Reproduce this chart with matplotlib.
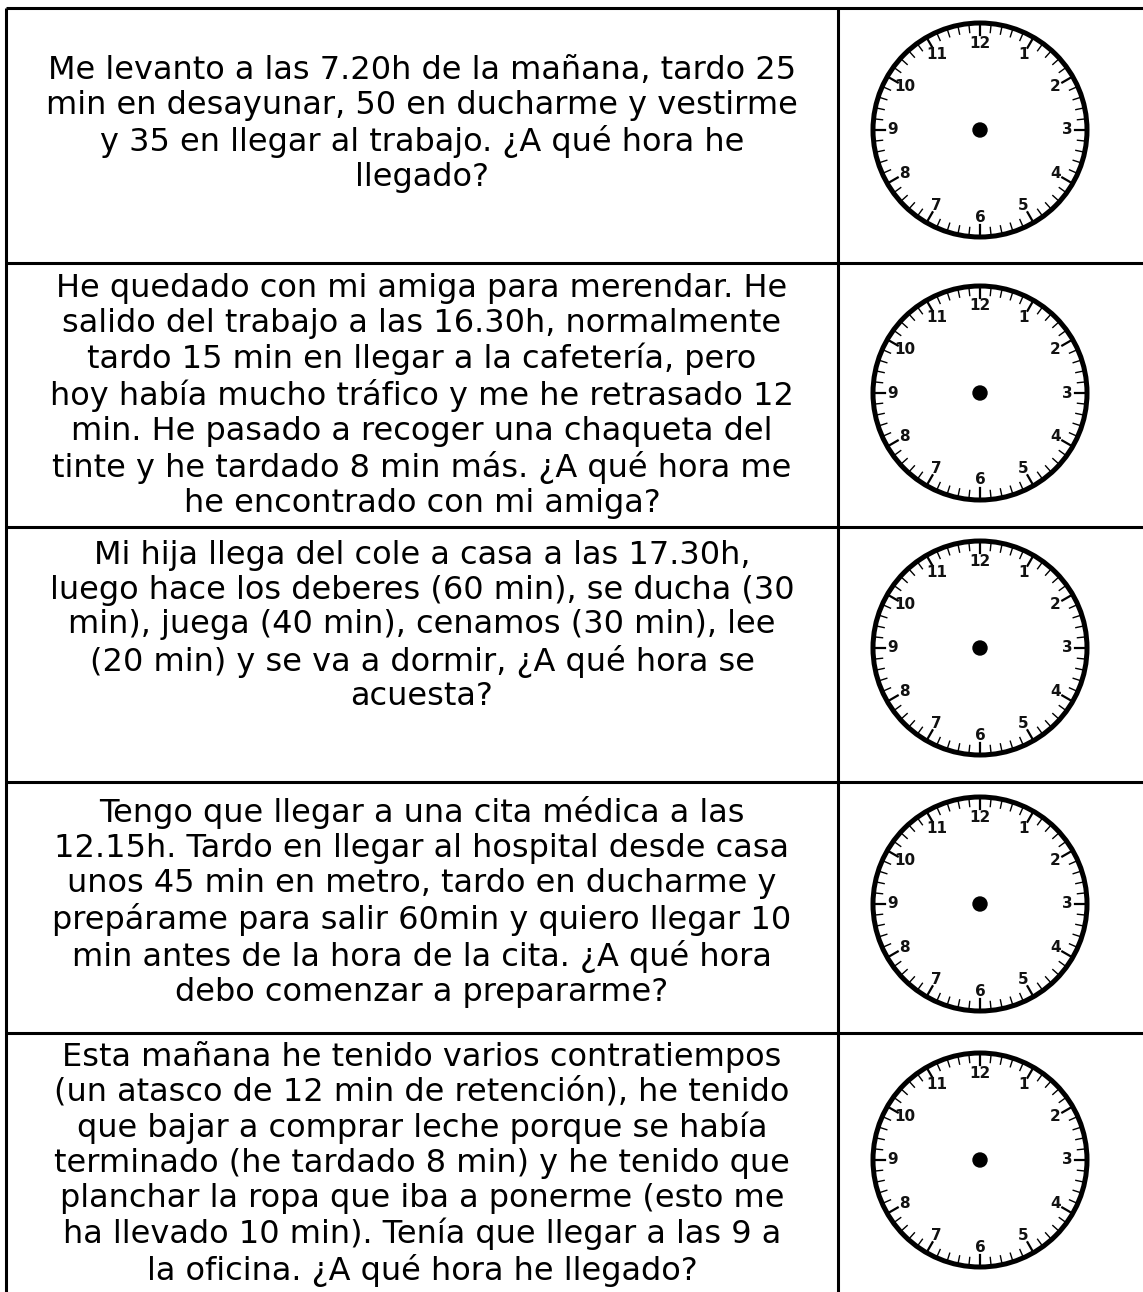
import matplotlib; matplotlib.use('Agg')
import matplotlib.pyplot as plt
import matplotlib.patches as patches
import numpy as np

W, H = 1143, 1292
DPI = 100

# problem statements, one per row (line breaks as on the sheet)
PROBLEMS = [
    "Me levanto a las 7.20h de la mañana, tardo 25\n"
    "min en desayunar, 50 en ducharme y vestirme\n"
    "y 35 en llegar al trabajo. ¿A qué hora he\n"
    "llegado?",
    "He quedado con mi amiga para merendar. He\n"
    "salido del trabajo a las 16.30h, normalmente\n"
    "tardo 15 min en llegar a la cafetería, pero\n"
    "hoy había mucho tráfico y me he retrasado 12\n"
    "min. He pasado a recoger una chaqueta del\n"
    "tinte y he tardado 8 min más. ¿A qué hora me\n"
    "he encontrado con mi amiga?",
    "Mi hija llega del cole a casa a las 17.30h,\n"
    "luego hace los deberes (60 min), se ducha (30\n"
    "min), juega (40 min), cenamos (30 min), lee\n"
    "(20 min) y se va a dormir, ¿A qué hora se\n"
    "acuesta?",
    "Tengo que llegar a una cita médica a las\n"
    "12.15h. Tardo en llegar al hospital desde casa\n"
    "unos 45 min en metro, tardo en ducharme y\n"
    "prepárame para salir 60min y quiero llegar 10\n"
    "min antes de la hora de la cita. ¿A qué hora\n"
    "debo comenzar a prepararme?",
    "Esta mañana he tenido varios contratiempos\n"
    "(un atasco de 12 min de retención), he tenido\n"
    "que bajar a comprar leche porque se había\n"
    "terminado (he tardado 8 min) y he tenido que\n"
    "planchar la ropa que iba a ponerme (esto me\n"
    "ha llevado 10 min). Tenía que llegar a las 9 a\n"
    "la oficina. ¿A qué hora he llegado?",
]
CLOCK_NUMBERS = ['12', '1', '2', '3', '4', '5', '6', '7', '8', '9', '10', '11']
MINUTE_MARKS = 60

# layout (pixels)
ROW_EDGES = [8, 263, 527, 782, 1033]
LEFT, MID, RIGHT = 6, 838, 1160
TEXT_X = 422
TEXT_Y = [124, 396, 626, 902, 1164]
CLOCK_X = 980
CLOCK_Y = [130, 393, 648, 904, 1160]
R = 107

fig = plt.figure(figsize=(W / DPI, H / DPI), dpi=DPI)
ax = fig.add_axes([0, 0, 1, 1])
ax.set_xlim(0, W)
ax.set_ylim(H, 0)
ax.axis('off')

LW = 2.2
for y in ROW_EDGES:
    ax.plot([LEFT, RIGHT], [y, y], color='black', lw=LW, solid_capstyle='butt')
for x in (LEFT, MID):
    ax.plot([x, x], [ROW_EDGES[0], H + 5], color='black', lw=LW, solid_capstyle='butt')


def draw_clock(ax, cx, cy):
    ax.add_patch(patches.Circle((cx, cy), R, fill=False, lw=3.6, ec='black'))
    for m in range(MINUTE_MARKS):
        a = np.pi / 2 - 2 * np.pi * m / MINUTE_MARKS
        long_tick = (m % 5 == 0)
        r0 = R - (12 if long_tick else 9)
        ax.plot([cx + r0 * np.cos(a), cx + R * np.cos(a)],
                [cy - r0 * np.sin(a), cy - R * np.sin(a)],
                color='black', lw=1.6 if long_tick else 1.0)
    for i, lab in enumerate(CLOCK_NUMBERS):
        a = np.pi / 2 - 2 * np.pi * i / 12
        ax.text(cx + 87 * np.cos(a), cy - 87 * np.sin(a), lab,
                ha='center', va='center', fontsize=11, fontweight='semibold',
                family='DejaVu Sans', color='#111111')
    ax.add_patch(patches.Circle((cx, cy), 7, color='black'))


for txt, ty, cy in zip(PROBLEMS, TEXT_Y, CLOCK_Y):
    ax.text(TEXT_X, ty, txt, ha='center', va='center', fontsize=23,
            family='DejaVu Sans', linespacing=1.16, color='black')
    draw_clock(ax, CLOCK_X, cy)

fig.savefig('out.png', dpi=DPI)
